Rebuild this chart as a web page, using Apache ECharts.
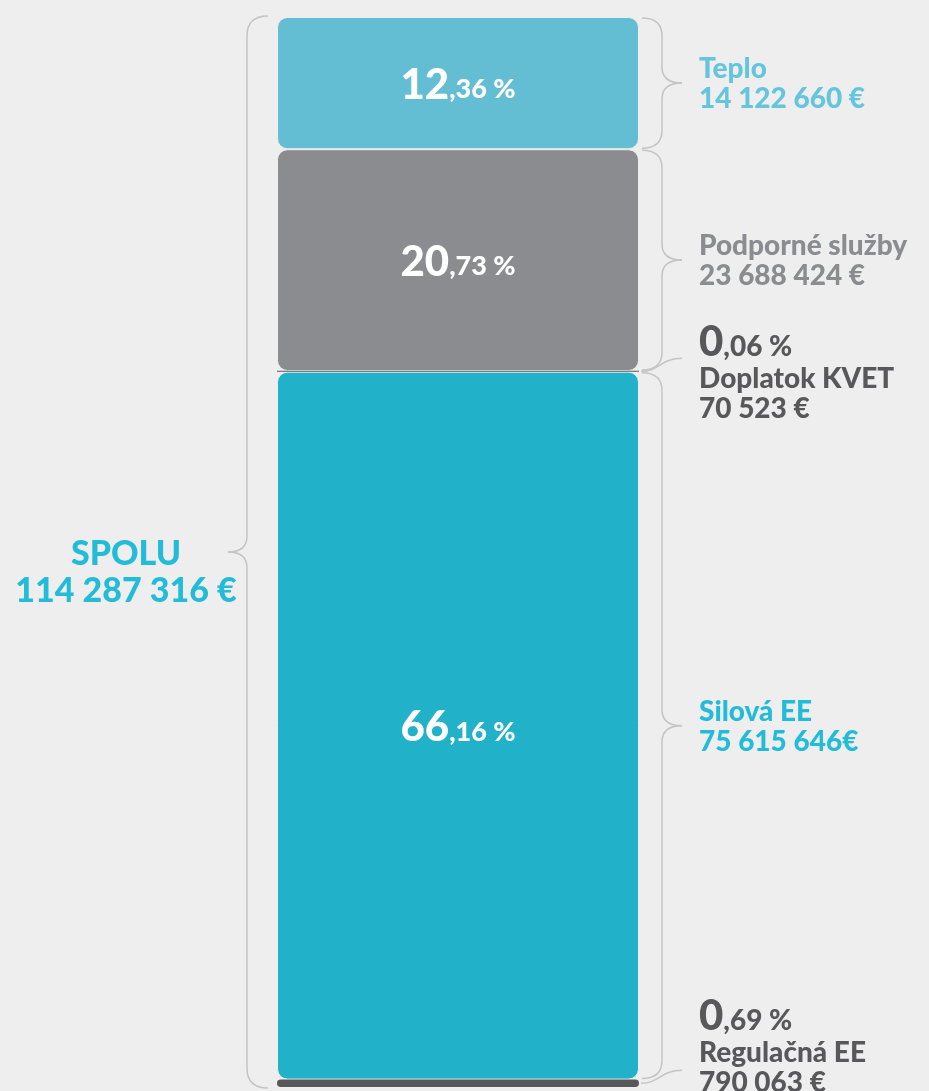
<!DOCTYPE html>
<html>
<head>
<meta charset="utf-8">
<script src="https://cdn.jsdelivr.net/npm/echarts@6/dist/echarts.min.js"></script>
<style>
  html, body { margin: 0; padding: 0; background: #eeeeee; }
  #chart { width: 929px; height: 1091px; }
</style>
</head>
<body>
<div id="chart"></div>
<script>
// Segments, stacked from bottom to top
var names = ['Regulačná EE', 'Silová EE', 'Doplatok KVET', 'Podporné služby', 'Teplo'];
var amounts = [790063, 75615646, 70523, 23688424, 14122660];
var amountTexts = ['790 063 €', '75 615 646€', '70 523 €', '23 688 424 €', '14 122 660 €'];
var totalName = 'SPOLU';
var totalText = '114 287 316 €';
var category = ['Spolu'];

var barColors = ['#58585a', '#21b2ca', '#58585a', '#8b8c90', '#64bed3'];
var textColors = ['#58585a', '#22bcd8', '#58585a', '#8b8c90', '#64c5dd'];
var FONT = 'Lato';
var BAR_W = 362;
var BRACE = '#c4c4c4';

var total = amounts.reduce(function (a, b) { return a + b; }, 0);
function pct(v) {
  return (v / total * 100).toFixed(2).replace('.', ',');
}
function isSmall(i) { return amounts[i] / total < 0.02; }

var chart = echarts.init(document.getElementById('chart'), null, { renderer: 'canvas' });

var series = names.map(function (name, i) {
  var small = isSmall(i);
  return {
    name: name,
    type: 'bar',
    stack: 'all',
    barWidth: BAR_W,
    barMinHeight: small ? 1 : 0,
    z: small ? 5 : 2,
    data: [amounts[i]],
    itemStyle: {
      color: barColors[i],
      borderRadius: small ? (i === 0 ? 4 : 0) : 10,
      borderColor: small ? 'transparent' : '#eeeeee',
      borderWidth: small ? 0 : 1
    },
    label: {
      show: !small,
      position: 'inside',
      formatter: function () {
        var p = pct(amounts[i]).split(',');
        return '{a|' + p[0] + '}{b|,' + p[1] + ' %}';
      },
      rich: {
        a: { color: '#fff', fontFamily: FONT, fontWeight: 900, fontSize: 42, lineHeight: 46, verticalAlign: 'bottom' },
        b: { color: '#fff', fontFamily: FONT, fontWeight: 900, fontSize: 27, lineHeight: 46, verticalAlign: 'bottom', padding: [0, 0, 3, 0] }
      }
    },
    emphasis: { disabled: true }
  };
});

chart.setOption({
  backgroundColor: '#eeeeee',
  animation: false,
  grid: { left: 277, right: 290, top: 17, bottom: 4 },
  xAxis: { type: 'category', data: category, show: false },
  yAxis: { type: 'value', min: 0, max: total, show: false },
  series: series
});

var lineStyle = { stroke: BRACE, fill: null, lineWidth: 1.5 };
function seg(x1, y1, x2, y2) {
  return { type: 'line', shape: { x1: x1, y1: y1, x2: x2, y2: y2 }, style: lineStyle, silent: true };
}
function curve(x1, y1, cx, cy, x2, y2, cx2, cy2) {
  var s = { x1: x1, y1: y1, cpx1: cx, cpy1: cy, x2: x2, y2: y2 };
  if (cx2 !== undefined) { s.cpx2 = cx2; s.cpy2 = cy2; }
  return { type: 'bezierCurve', shape: s, style: lineStyle, silent: true };
}
// curly brace: edge x, line x, tip x, top and bottom y
function brace(xE, xL, xT, y0, y1, r, r2) {
  var ym = (y0 + y1) / 2;
  return [
    curve(xE, y0, xL, y0, xL, y0 + r),
    seg(xL, y0 + r, xL, ym - r2),
    curve(xL, ym - r2, xL, ym, xT, ym),
    curve(xT, ym, xL, ym, xL, ym + r2),
    seg(xL, ym + r2, xL, y1 - r),
    curve(xL, y1 - r, xL, y1, xE, y1)
  ];
}

function drawAnnotations() {
  var yOf = function (v) { return chart.convertToPixel({ yAxisIndex: 0 }, v); };
  var xc = chart.convertToPixel({ xAxisIndex: 0 }, category[0]);
  var left = xc - BAR_W / 2, right = xc + BAR_W / 2;
  var H = chart.getHeight();
  var els = [];
  var base = 0;

  var xE = right + 3, xL = right + 23, xT = right + 43, xText = right + 60;

  names.forEach(function (name, i) {
    var yb = yOf(base), yt = yOf(base + amounts[i]);
    base += amounts[i];
    var yc = (yb + yt) / 2;
    var big = { fill: textColors[i], fontFamily: FONT, fontWeight: 900, fontSize: 28, lineHeight: 30 };
    if (!isSmall(i)) {
      els = els.concat(brace(xE, xL, xT, yt + 1, yb - 1, 18, 16));
      els.push({
        type: 'text', x: xText, y: yc + 1,
        style: {
          text: '{n|' + name + '}\n{n|' + amountTexts[i] + '}',
          rich: { n: big },
          align: 'left', verticalAlign: 'middle'
        }
      });
    } else {
      var ty = yc - 13;
      els.push(curve(xE - 1, yc, xE + 18, yc, xT, ty, xT - 22, ty));
      var p = pct(amounts[i]).split(',');
      var half = 40;
      var ly = Math.min(yc + 6, H - half);
      els.push({
        type: 'text', x: xText, y: ly,
        style: {
          text: '{p|' + p[0] + '}{q|,' + p[1] + ' %}\n{n|' + name + '}\n{n|' + amountTexts[i] + '}',
          rich: {
            p: { fill: textColors[i], fontFamily: FONT, fontWeight: 900, fontSize: 42, lineHeight: 33, verticalAlign: 'bottom' },
            q: { fill: textColors[i], fontFamily: FONT, fontWeight: 900, fontSize: 28, lineHeight: 33, verticalAlign: 'bottom', padding: [0, 0, 3, 0] },
            n: big
          },
          align: 'left', verticalAlign: 'middle'
        }
      });
    }
  });

  // left brace around the whole bar
  var y0 = yOf(total) - 1, y1 = yOf(0) + 1;
  var ym = (y0 + y1) / 2;
  var lE = left - 9, lL = left - 30, lT = left - 49;
  els = els.concat(brace(lE, lL, lT, y0, y1, 20, 16));
  els.push({
    type: 'text', x: lT - 102, y: ym + 21,
    style: {
      text: '{t|' + totalName + '}\n{t|' + totalText + '}',
      rich: { t: { fill: '#22bcd8', fontFamily: FONT, fontWeight: 900, fontSize: 34, lineHeight: 37, align: 'center' } },
      align: 'center', verticalAlign: 'middle'
    }
  });

  chart.setOption({ graphic: { elements: els } });
}

drawAnnotations();
</script>
</body>
</html>
